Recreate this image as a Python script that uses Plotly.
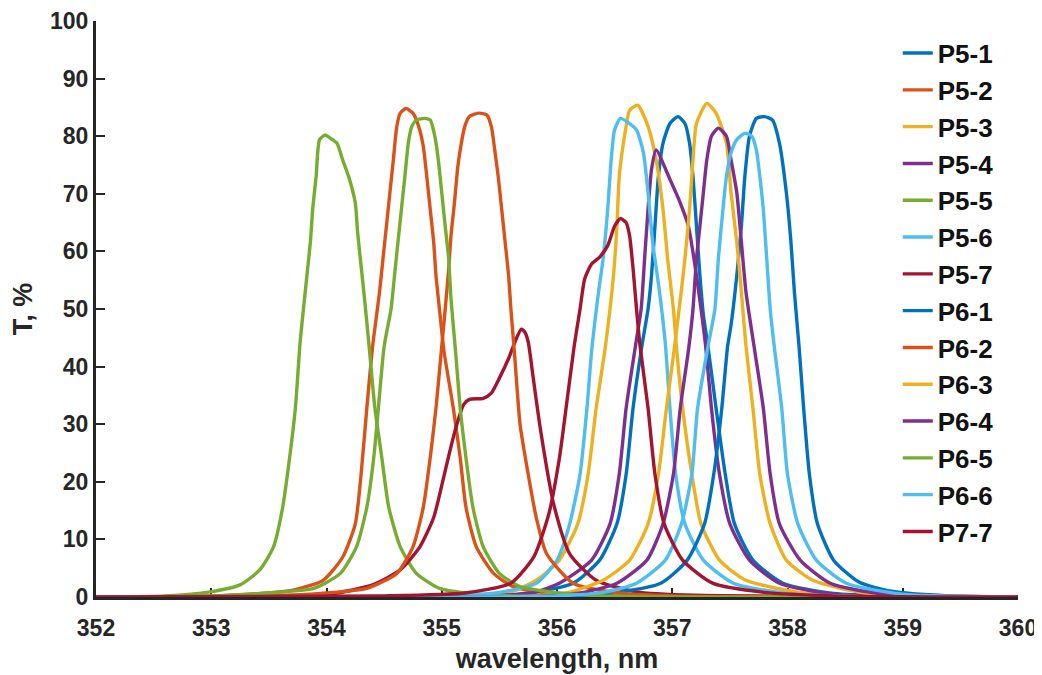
import plotly.graph_objects as go

# ---- data ----
names = ["P5-1", "P5-2", "P5-3", "P5-4", "P5-5", "P5-6", "P5-7",
         "P6-1", "P6-2", "P6-3", "P6-4", "P6-5", "P6-6", "P7-7"]

colors = ["#0072BD", "#D95319", "#EDB120", "#7E2F8E", "#77AC30", "#4DBEEE", "#A2142F",
          "#0072BD", "#D95319", "#EDB120", "#7E2F8E", "#77AC30", "#4DBEEE", "#A2142F"]

x_p5_1 = [352, 355.6, 356.14, 356.37, 356.52, 356.60, 356.66, 356.74, 356.79, 356.82, 356.85,
          356.88, 356.92, 356.98, 357.05, 357.11, 357.15, 357.18, 357.21, 357.24, 357.27,
          357.31, 357.38, 357.46, 357.54, 357.70, 357.96, 358.4, 360]
y_p5_1 = [0, 0.3, 2.4, 6.4, 12.7, 21.3, 32.8, 44, 50, 55.8, 64.4,
          73, 78.8, 82.2, 83.4, 82.2, 78.8, 73, 64.4, 55.8, 49,
          43.5, 32.8, 21.3, 12.7, 6.4, 2.4, 0.6, 0]

x_p5_2 = [352, 353.0, 353.34, 353.71, 353.97, 354.14, 354.25, 354.30, 354.35, 354.40, 354.46,
          354.49, 354.52, 354.55, 354.58, 354.61, 354.64, 354.69, 354.75, 354.80, 354.84,
          354.87, 354.90, 354.93, 354.95, 354.98, 355.02, 355.10, 355.16, 355.21, 355.30,
          355.45, 355.62, 355.94, 356.4, 360]
y_p5_2 = [0, 0.2, 0.5, 1.2, 2.9, 6.9, 12.7, 21.3, 32.8, 43.5, 52.9,
          58.7, 64.4, 70.2, 75.9, 81.7, 84, 84.8, 84, 81.7, 78.2,
          73, 67.3, 61.6, 55.8, 50, 42.6, 32.8, 24.2, 15.6, 8.7,
          4.1, 1.8, 0.6, 0.2, 0]

x_p5_3 = [352, 355.2, 355.6, 355.82, 356.02, 356.18, 356.27, 356.34, 356.42, 356.49, 356.52,
          356.54, 356.59, 356.63, 356.70, 356.79, 356.86, 356.92, 356.96, 357.01, 357.04,
          357.09, 357.17, 357.25, 357.41, 357.64, 358.1, 358.6, 360]
y_p5_3 = [0, 0.2, 0.9, 2.9, 6.4, 12.7, 21.3, 32.8, 43.5, 55.8, 64.4,
          73, 80.5, 84.5, 85.4, 81.7, 75.9, 67.3, 58.7, 50, 42.6,
          32.8, 21.3, 12.7, 6.4, 2.9, 0.8, 0.2, 0]

x_p5_4 = [352, 355.4, 355.8, 356.02, 356.30, 356.46, 356.54, 356.60, 356.68, 356.73, 356.76,
          356.79, 356.82, 356.86, 356.98, 357.07, 357.14, 357.18, 357.21, 357.25, 357.29,
          357.34, 357.41, 357.50, 357.67, 357.93, 358.4, 360]
y_p5_4 = [0, 0.2, 0.8, 2.4, 6.4, 12.7, 21.3, 32.8, 43.5, 50, 58.7,
          67.3, 74.2, 77.6, 72.5, 68.4, 64.4, 59.8, 55.8, 50, 43.5,
          32.8, 21.3, 12.7, 6.4, 2.4, 0.5, 0]

x_p5_5 = [352, 352.6, 352.99, 353.25, 353.42, 353.54, 353.62, 353.68, 353.73, 353.77, 353.80,
          353.83, 353.86, 353.88, 353.91, 353.94, 353.99, 354.03, 354.09, 354.14, 354.20,
          354.25, 354.27, 354.30, 354.33, 354.37, 354.42, 354.48, 354.54, 354.64, 354.78,
          354.98, 355.21, 355.6, 360]
y_p5_5 = [0, 0.2, 0.9, 2.1, 4.7, 8.7, 15.6, 24.2, 32.8, 44, 50,
          55.8, 61.6, 67.3, 73, 79.4, 80.2, 79.7, 78.8, 75.9, 72.5,
          68.4, 63.3, 57.5, 51.8, 43.5, 32.8, 24.2, 15.6, 8.7, 4.1,
          1.5, 0.7, 0.2, 0]

x_p5_6 = [352, 355.0, 355.5, 355.82, 356.0, 356.11, 356.20, 356.26, 356.30, 356.36, 356.40,
          356.44, 356.47, 356.50, 356.55, 356.63, 356.69, 356.75, 356.79, 356.83, 356.89,
          356.94, 356.98, 357.03, 357.11, 357.27, 357.53, 358.0, 358.6, 360]
y_p5_6 = [0, 0.2, 0.8, 2.4, 6.4, 12.7, 21.3, 32.8, 42.6, 52.9, 58.7,
          67.3, 75.9, 81.1, 83.1, 82.2, 81.1, 77.1, 70.2, 61.6, 52.9,
          44, 32.8, 21.3, 12.7, 6.4, 2.4, 0.6, 0.1, 0]

x_p5_7 = [352, 353.5, 354.06, 354.40, 354.64, 354.81, 354.93, 355.01, 355.07, 355.13, 355.19,
          355.24, 355.36, 355.43, 355.50, 355.58, 355.64, 355.69, 355.72, 355.75, 355.79,
          355.85, 355.91, 355.97, 356.11, 356.34, 356.69, 357.2, 360]
y_p5_7 = [0, 0.1, 0.6, 2.1, 4.7, 8.7, 13.8, 20.2, 25.3, 29.9, 33.4,
          34.3, 34.5, 35.4, 38, 41.4, 44.5, 46.5, 46, 44.3, 38.6,
          29.9, 22.5, 16.2, 7.5, 2.9, 0.9, 0.3, 0]

x_p6_1 = [352, 356.3, 356.9, 357.13, 357.28, 357.36, 357.43, 357.48, 357.51, 357.56, 357.60,
          357.63, 357.67, 357.73, 357.80, 357.87, 357.93, 357.99, 358.03, 358.06, 358.10,
          358.14, 358.19, 358.26, 358.40, 358.62, 358.9, 359.4, 360]
y_p6_1 = [0, 0.3, 2.4, 6.4, 12.7, 21.3, 32.8, 43.5, 47.2, 55.8, 64.4,
          73, 80, 83.1, 83.4, 82.8, 78.8, 70.2, 61.6, 52.9, 43.5,
          32.8, 21.3, 12.7, 6.4, 2.6, 1.0, 0.2, 0]

x_p6_2 = [352, 353.5, 354.0, 354.35, 354.61, 354.75, 354.84, 354.90, 354.95, 355.00, 355.03,
          355.06, 355.08, 355.11, 355.14, 355.17, 355.20, 355.24, 355.32, 355.39, 355.43,
          355.46, 355.49, 355.52, 355.55, 355.58, 355.60, 355.63, 355.68, 355.75, 355.82,
          355.91, 356.14, 356.5, 357.0, 360]
y_p6_2 = [0, 0.2, 0.7, 1.5, 4.1, 8.7, 15.6, 24.2, 32.8, 43.5, 50,
          56.9, 62.7, 68.4, 74.8, 78.8, 81.7, 83.4, 84, 83.7, 81.7,
          77.6, 73, 67.3, 61.6, 55.8, 50, 42.6, 29.9, 21.3, 13.8,
          7.5, 2.4, 0.8, 0.2, 0]

x_p6_3 = [352, 355.8, 356.1, 356.40, 356.63, 356.79, 356.88, 356.95, 357.02, 357.06, 357.11,
          357.15, 357.18, 357.21, 357.30, 357.38, 357.47, 357.51, 357.56, 357.60, 357.64,
          357.70, 357.76, 357.85, 357.99, 358.22, 358.7, 360]
y_p6_3 = [0, 0.2, 0.8, 2.9, 6.4, 12.7, 21.3, 32.8, 43.5, 50, 58.7,
          67.3, 75.9, 82.2, 85.7, 84, 78.8, 70.2, 61.6, 52.9, 43.5,
          32.8, 21.3, 12.7, 6.4, 2.9, 0.6, 0]

x_p6_4 = [352, 355.9, 356.2, 356.52, 356.78, 356.92, 357.01, 357.07, 357.145, 357.18, 357.21,
          357.24, 357.27, 357.30, 357.34, 357.40, 357.47, 357.51, 357.56, 357.60, 357.64,
          357.71, 357.79, 357.85, 357.93, 358.11, 358.37, 358.8, 360]
y_p6_4 = [0, 0.2, 0.7, 2.4, 6.4, 12.7, 21.3, 32.8, 43.5, 50, 58.7,
          64.4, 70.2, 75.9, 80, 81.4, 80, 75.9, 70.2, 61.6, 52.9,
          43.5, 32.8, 21.3, 12.7, 6.4, 2.4, 0.6, 0]

x_p6_5 = [352, 353.0, 353.48, 353.89, 354.12, 354.26, 354.35, 354.41, 354.45, 354.50, 354.56,
          354.59, 354.62, 354.65, 354.68, 354.71, 354.74, 354.78, 354.85, 354.90, 354.94,
          354.97, 355.00, 355.03, 355.06, 355.08, 355.12, 355.16, 355.21, 355.27, 355.36,
          355.50, 355.68, 355.94, 356.4, 360]
y_p6_5 = [0, 0.2, 0.7, 1.5, 4.1, 8.7, 15.6, 24.2, 32.8, 43.5, 50,
          55.8, 61.6, 67.3, 73, 78.8, 81.7, 82.8, 83.1, 82.8, 80,
          75.9, 70.2, 64.4, 58.7, 51.8, 42.6, 32.8, 24.2, 15.6, 8.7,
          4.1, 1.8, 0.9, 0.2, 0]

x_p6_6 = [352, 356.0, 356.4, 356.69, 356.94, 357.08, 357.17, 357.22, 357.31, 357.37, 357.40,
          357.44, 357.47, 357.51, 357.56, 357.63, 357.69, 357.73, 357.76, 357.79, 357.82,
          357.85, 357.885, 357.95, 358.00, 358.09, 358.25, 358.51, 359.0, 360]
y_p6_6 = [0, 0.2, 0.8, 2.4, 6.4, 12.7, 21.3, 32.8, 43.5, 50, 58.7,
          67.3, 73, 77.1, 79.4, 80.5, 80, 77.6, 73, 67.3, 58.7,
          50, 43.5, 32.8, 21.3, 12.7, 6.4, 2.4, 0.5, 0]

x_p7_7 = [352, 354.5, 355.2, 355.6, 355.80, 355.93, 356.02, 356.08, 356.15, 356.20, 356.24,
          356.30, 356.37, 356.44, 356.50, 356.55, 356.60, 356.63, 356.66, 356.69, 356.72,
          356.79, 356.85, 356.93, 357.09, 357.35, 357.8, 358.4, 360]
y_p7_7 = [0, 0.2, 0.7, 2.4, 7, 14.5, 24, 33, 43.7, 50, 55.2,
          57.8, 59, 61, 64.4, 65.7, 65, 62.7, 57, 50, 43.7,
          32.8, 21.3, 12.7, 6.4, 2.4, 0.8, 0.2, 0]

xs = [x_p5_1, x_p5_2, x_p5_3, x_p5_4, x_p5_5, x_p5_6, x_p5_7,
      x_p6_1, x_p6_2, x_p6_3, x_p6_4, x_p6_5, x_p6_6, x_p7_7]
ys = [y_p5_1, y_p5_2, y_p5_3, y_p5_4, y_p5_5, y_p5_6, y_p5_7,
      y_p6_1, y_p6_2, y_p6_3, y_p6_4, y_p6_5, y_p6_6, y_p7_7]

x_ticks = [352, 353, 354, 355, 356, 357, 358, 359, 360]
y_ticks = [0, 10, 20, 30, 40, 50, 60, 70, 80, 90, 100]

x_title = "wavelength, nm"
y_title = "T, %"

# ---- figure ----
fig = go.Figure()
for name, col, x, y in zip(names, colors, xs, ys):
    fig.add_trace(go.Scatter(
        x=x, y=y, mode="lines", name=name,
        line=dict(color=col, width=3.4, shape="spline", smoothing=0.6),
    ))

axis_color = "#262626"
font_family = "Liberation Sans, Arial, sans-serif"

fig.update_layout(
    width=1034, height=667,
    margin=dict(l=88, r=24, t=13, b=78),
    paper_bgcolor="white", plot_bgcolor="white",
    font=dict(family=font_family, size=22, color=axis_color, weight="bold"),
    showlegend=True,
    legend=dict(
        x=0.8696, y=0.985, xanchor="left", yanchor="top",
        bgcolor="rgba(255,255,255,0)", borderwidth=0,
        font=dict(family=font_family, size=26, color="#111111", weight="bold"),
        tracegroupgap=0,
    ),
    xaxis=dict(
        range=[352, 360], tickvals=x_ticks, ticktext=[str(v) for v in x_ticks],
        ticks="inside", ticklen=9, tickwidth=2, tickcolor=axis_color,
        showline=True, linewidth=3, linecolor=axis_color, mirror=False,
        showgrid=False, zeroline=False, automargin=False, layer="below traces",
        ticklabelstandoff=8, ticklabeloverflow="allow",
        tickfont=dict(size=23, weight="bold", color=axis_color),
        title=dict(text=x_title, font=dict(size=27, weight="bold", color=axis_color), standoff=10),
    ),
    yaxis=dict(
        range=[0, 100], tickvals=y_ticks, ticktext=[str(v) for v in y_ticks],
        ticks="inside", ticklen=9, tickwidth=2, tickcolor=axis_color,
        showline=True, linewidth=3, linecolor=axis_color, mirror=False,
        showgrid=False, zeroline=False, automargin=False, layer="below traces",
        ticklabelstandoff=0, ticklabeloverflow="allow",
        tickfont=dict(size=23, weight="bold", color=axis_color),
    ),
    annotations=[dict(
        text=y_title, textangle=-90, showarrow=False,
        xref="paper", yref="paper", x=-0.079, y=0.5, xanchor="center", yanchor="middle",
        font=dict(family=font_family, size=27, weight="bold", color=axis_color),
    )],
)

fig.write_html("out.html")
